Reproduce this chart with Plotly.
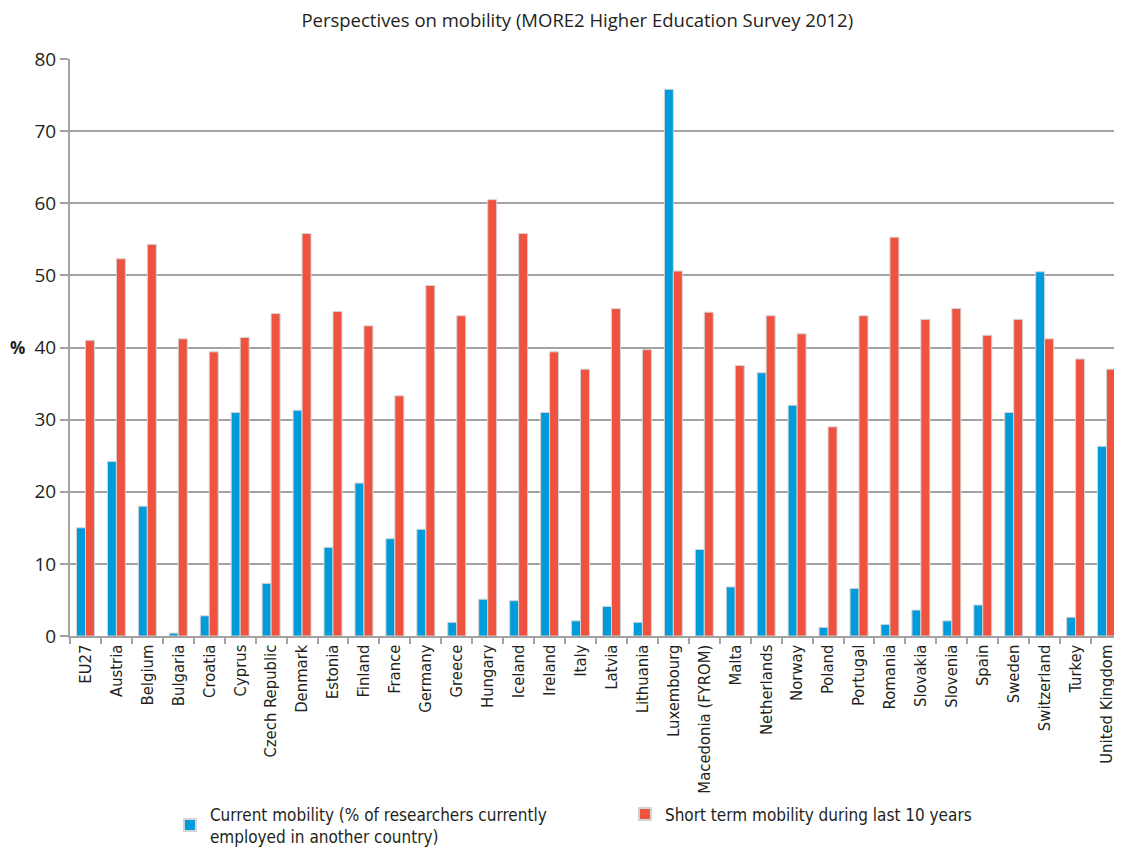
import plotly.graph_objects as go

countries = ["EU27", "Austria", "Belgium", "Bulgaria", "Croatia", "Cyprus", "Czech Republic",
             "Denmark", "Estonia", "Finland", "France", "Germany", "Greece", "Hungary", "Iceland",
             "Ireland", "Italy", "Latvia", "Lithuania", "Luxembourg", "Macedonia (FYROM)", "Malta",
             "Netherlands", "Norway", "Poland", "Portugal", "Romania", "Slovakia", "Slovenia",
             "Spain", "Sweden", "Switzerland", "Turkey", "United Kingdom"]

current_mobility = [15.0, 24.2, 18.0, 0.4, 2.8, 31.0, 7.3, 31.3, 12.3, 21.2, 13.5, 14.8, 1.9, 5.1,
                    4.9, 31.0, 2.1, 4.1, 1.9, 75.8, 12.0, 6.8, 36.5, 32.0, 1.2, 6.6, 1.6, 3.6,
                    2.1, 4.3, 31.0, 50.5, 2.6, 26.3]

short_term_mobility = [41.0, 52.3, 54.3, 41.2, 39.4, 41.4, 44.7, 55.8, 45.0, 43.0, 33.3, 48.6, 44.4,
                       60.5, 55.8, 39.4, 37.0, 45.4, 39.7, 50.6, 44.9, 37.5, 44.4, 41.9, 29.0,
                       44.4, 55.3, 43.9, 45.4, 41.7, 43.9, 41.2, 38.4, 37.0]

y_ticks = [0, 10, 20, 30, 40, 50, 60, 70, 80]

BLUE = "#009bdb"
RED = "#ef5340"
EDGE = "#d4d4d4"
GRID = "#a3a3a3"
TXT = "#231f20"
NARROW = "Liberation Sans Narrow, DejaVu Sans Condensed, Arial Narrow, sans-serif"
MAIN = "Open Sans, Noto Sans, sans-serif"

fig = go.Figure()
fig.add_trace(go.Bar(
    x=countries, y=current_mobility,
    name="Current mobility (% of researchers currently<br>employed in another country)",
    marker=dict(color=BLUE, line=dict(color=EDGE, width=1)),
))
fig.add_trace(go.Bar(
    x=countries, y=short_term_mobility,
    name="Short term mobility during last 10 years",
    marker=dict(color=RED, line=dict(color=EDGE, width=1)),
))

fig.update_layout(
    width=1114, height=842,
    margin=dict(l=62, r=0, t=51, b=214, autoexpand=False),
    paper_bgcolor="white", plot_bgcolor="white",
    barmode="group", bargap=0.42, bargroupgap=0.0,
    title=dict(text="Perspectives on mobility (MORE2 Higher Education Survey 2012)",
               x=0.511, xanchor="center", y=0.993, yanchor="top",
               pad=dict(t=0, b=0, l=0, r=0),
               font=dict(family=MAIN, size=18.5, color=TXT)),
    font=dict(family=NARROW, color=TXT),
    legend=dict(orientation="h", x=0.095, xanchor="left", y=-0.278, yanchor="top",
                font=dict(family=NARROW, size=17, color=TXT),
                entrywidth=410, entrywidthmode="pixels",
                itemsizing="constant", traceorder="normal"),
    showlegend=True,
)

fig.update_xaxes(
    tickangle=-90, tickfont=dict(family=NARROW, size=16.5, color=TXT),
    showline=True, linecolor=GRID, linewidth=2,
    ticks="outside", ticklen=6, tickcolor=GRID, tickwidth=2,
    tickson="boundaries", showgrid=False, automargin=False,
    range=[-0.5, len(countries) - 0.5],
)
fig.update_yaxes(
    range=[0, 80], tickvals=y_ticks,
    tickfont=dict(family=MAIN, size=19, color=TXT),
    showline=True, linecolor=GRID, linewidth=2,
    ticks="outside", ticklen=8, tickcolor=GRID, tickwidth=2,
    showgrid=True, gridcolor=GRID, gridwidth=2,
    zeroline=False, automargin=False,
)

fig.add_annotation(text="<b>%</b>", xref="paper", yref="paper", x=-0.05, y=0.5,
                   xanchor="center", yanchor="middle", showarrow=False,
                   font=dict(family=MAIN, size=17, color=TXT))

fig.write_html("out.html")
